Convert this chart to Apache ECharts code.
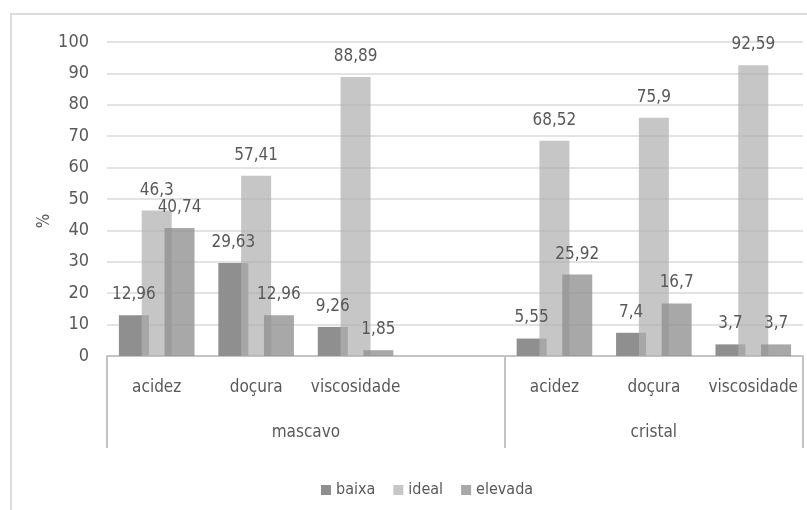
<!DOCTYPE html>
<html>
<head>
<meta charset="utf-8">
<script src="https://cdn.jsdelivr.net/npm/echarts@6/dist/echarts.min.js"></script>
<style>
  html, body { margin: 0; padding: 0; background: #fff; }
  #frame {
    position: absolute; left: 10px; top: 13px; width: 820px; height: 520px;
    border-left: 2px solid #dcdcdc; border-top: 2px solid #dcdcdc;
  }
  #chart { position: absolute; left: 0; top: 0; width: 807px; height: 510px; }
</style>
</head>
<body>
<div id="frame"></div>
<div id="chart"></div>
<script>
const categories = ["acidez", "doçura", "viscosidade", "", "acidez", "doçura", "viscosidade"];
const groups = ["mascavo", "cristal"];
const baixa = [12.96, 29.63, 9.26, null, 5.55, 7.4, 3.7];
const ideal = [46.3, 57.41, 88.89, null, 68.52, 75.9, 92.59];
const elevada = [40.74, 12.96, 1.85, null, 25.92, 16.7, 3.7];
const yTicks = [0, 100, 10];

const FONT = "'Liberation Sans Narrow', 'DejaVu Sans Condensed', 'Roboto Condensed', 'Liberation Sans', sans-serif";
const TXT = "#595959";

const chart = echarts.init(document.getElementById("chart"));

const fmt = (p) => String(p.value).replace(".", ",");

function barSeries(name, data, color) {
  return {
    name: name,
    type: "bar",
    data: data,
    barWidth: 30,
    barGap: "-24%",
    itemStyle: { color: color },
    label: {
      show: true,
      position: "top",
      distance: 12,
      color: TXT,
      fontFamily: FONT,
      fontSize: 17,
      formatter: fmt,
    },
  };
}

const option = {
  animation: false,
  textStyle: { fontFamily: FONT },
  grid: { left: 107, right: 4, top: 42, bottom: 154 },
  legend: {
    left: 316,
    top: 477,
    itemWidth: 10,
    itemHeight: 10,
    itemGap: 18,
    icon: "rect",
    textStyle: { color: TXT, fontSize: 16, fontFamily: FONT },
    data: ["baixa", "ideal", "elevada"],
  },
  xAxis: [
    {
      type: "category",
      data: categories,
      axisLine: { lineStyle: { color: "#c4c4c4", width: 2 } },
      axisTick: { show: false },
      axisLabel: { color: TXT, fontSize: 17, fontFamily: FONT, margin: 23, interval: 0 },
    },
    {
      type: "value",
      min: 0,
      max: categories.length,
      position: "bottom",
      axisLine: { show: false },
      splitLine: { show: false },
      axisTick: {
        show: true,
        customValues: [0, 4, 7],
        length: 92,
        lineStyle: { color: "#c4c4c4", width: 2 },
      },
      axisLabel: {
        customValues: [2, 5.5],
        formatter: (v) => (v < 4 ? groups[0] : groups[1]),
        color: TXT,
        fontSize: 17,
        fontFamily: FONT,
        margin: 68,
      },
    },
  ],
  yAxis: {
    type: "value",
    min: yTicks[0],
    max: yTicks[1],
    interval: yTicks[2],
    name: "%",
    nameLocation: "middle",
    nameGap: 54,
    nameRotate: 90,
    nameMoveOverlap: false,
    nameTextStyle: { color: TXT, fontSize: 17, fontFamily: FONT, padding: [0, 44, 0, 0] },
    axisLine: { show: false },
    axisTick: { show: false },
    axisLabel: { color: TXT, fontSize: 18, fontFamily: FONT, margin: 18 },
    splitLine: { lineStyle: { color: "#e3e3e3", width: 2 } },
  },
  series: [
    barSeries("baixa", baixa, "#8f8f8f"),
    barSeries("ideal", ideal, "rgba(176,176,176,0.72)"),
    barSeries("elevada", elevada, "rgba(146,146,146,0.8)"),
  ],
};

chart.setOption(option);
</script>
</body>
</html>
